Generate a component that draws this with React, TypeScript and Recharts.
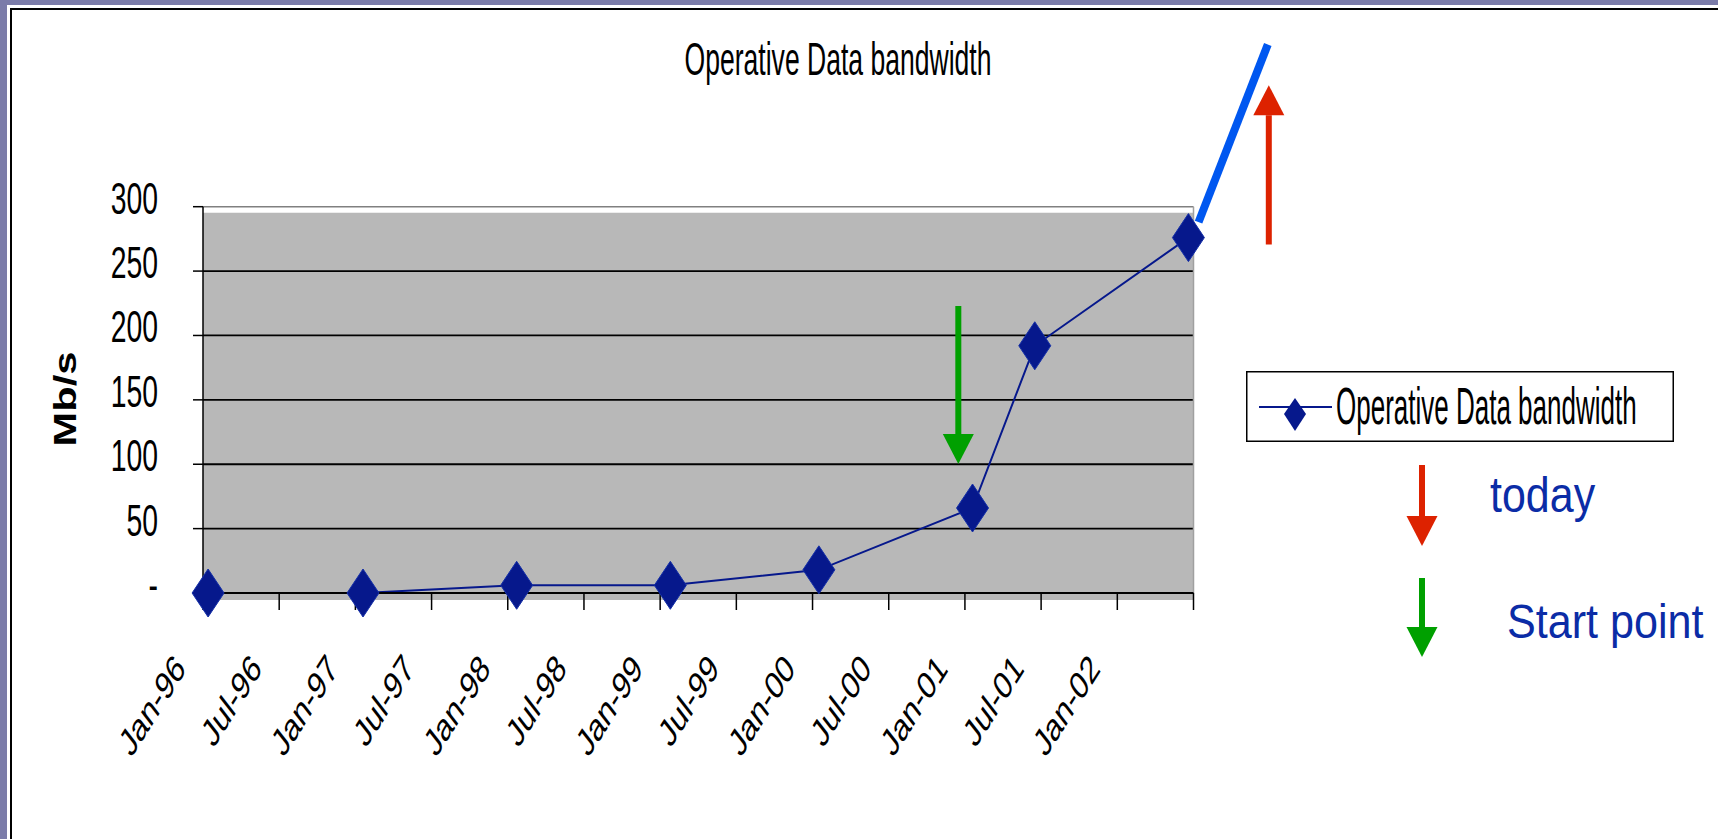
import React from "react";
import {
  LineChart,
  Line,
  XAxis,
  YAxis,
  CartesianGrid,
  ReferenceArea,
  ReferenceLine,
  Legend,
} from "recharts";

// months since Jan-96
const months = [0.4, 12.6, 24.7, 36.8, 48.5, 60.6, 65.5, 77.6];
const bandwidth = [0, 0, 6, 6, 18, 66, 192, 276];

const tickMonths = [0, 6, 12, 18, 24, 30, 36, 42, 48, 54, 60, 66, 72, 78];
const tickLabels = [
  "Jan-96", "Jul-96", "Jan-97", "Jul-97", "Jan-98", "Jul-98", "Jan-99",
  "Jul-99", "Jan-00", "Jul-00", "Jan-01", "Jul-01", "Jan-02", "",
];
const yTicks = [0, 50, 100, 150, 200, 250, 300];
const yTickLabels = ["-", "50", "100", "150", "200", "250", "300"];

const SERIES_NAME = "Operative Data bandwidth";
const NAVY = "#06188C";
const PLOT_GRAY = "#B8B8B8";
const FONT = "'Liberation Sans', Arial, sans-serif";

const data = months.map((m, i) => ({ month: m, value: bandwidth[i] }));

function XTick(props: any) {
  const { x, y, payload } = props;
  const i = tickMonths.indexOf(payload.value);
  const label = tickLabels[i] ?? "";
  if (!label) return null;
  // squeezed horizontally after rotation, like the original picture
  return (
    <text
      transform={`translate(${x - 16},${y + 58}) scale(0.7,1) rotate(-48)`}
      textAnchor="end"
      fontFamily={FONT}
      fontSize={39}
      fill="#000"
    >
      {label}
    </text>
  );
}

function YTick(props: any) {
  const { y, payload } = props;
  const i = yTicks.indexOf(payload.value);
  return (
    <text
      transform={`translate(158,${y + 7}) scale(0.63,1)`}
      textAnchor="end"
      fontFamily={FONT}
      fontSize={45}
      fill="#000"
    >
      {yTickLabels[i]}
    </text>
  );
}

function renderDiamond(props: any) {
  const { cx, cy, index } = props;
  return (
    <polygon
      key={`d-${index}`}
      points={`${cx},${cy - 24} ${cx + 16},${cy} ${cx},${cy + 24} ${cx - 16},${cy}`}
      fill={NAVY}
      stroke="#1530A8"
      strokeWidth={1}
    />
  );
}

function Arrow(props: any) {
  const { x1, y1, x2, y2, color } = props;
  const dx = x2 - x1;
  const dy = y2 - y1;
  const len = Math.sqrt(dx * dx + dy * dy) || 1;
  const ux = dx / len;
  const uy = dy / len;
  const head = 30;
  const half = 15.5;
  const bx = x2 - ux * head;
  const by = y2 - uy * head;
  return (
    <g>
      <line x1={x1} y1={y1} x2={bx} y2={by} stroke={color} strokeWidth={6} />
      <polygon
        points={`${x2},${y2} ${bx - uy * half},${by + ux * half} ${bx + uy * half},${by - ux * half}`}
        fill={color}
      />
    </g>
  );
}

function LegendBox(props: any) {
  const item = props.payload && props.payload[0];
  const name = item ? item.value : SERIES_NAME;
  return (
    <svg width={428} height={71} style={{ display: "block" }}>
      <rect x={0.75} y={0.75} width={426.5} height={69.5} fill="#fff" stroke="#000" strokeWidth={1.5} />
      <line x1={13} y1={36} x2={86} y2={36} stroke={NAVY} strokeWidth={2} />
      <polygon points="49,27 60,43 49,60 38,43" fill={NAVY} />
      <text
        transform="translate(90,53) scale(0.51,1)"
        fontFamily={FONT}
        fontSize={51}
        fill="#000"
      >
        {name}
      </text>
    </svg>
  );
}

export default function App() {
  return (
    <div style={{ position: "absolute", left: 0, top: 0, width: 1718, height: 839, background: "#fff" }}>
      <LineChart
        width={1718}
        height={839}
        data={data}
        margin={{ top: 206.7, right: 524.5, bottom: 146, left: 103 }}
      >
        <CartesianGrid
          vertical={false}
          horizontalValues={[50, 100, 150, 200, 250]}
          fill={PLOT_GRAY}
          fillOpacity={1}
          stroke="#000"
          strokeWidth={1.8}
        />
        {/* plot panel sits a few pixels lower than the 300 line */}
        <ReferenceArea
          x1={0}
          x2={78}
          y1={295.3}
          y2={300}
          fill="#fff"
          fillOpacity={1}
          stroke="none"
          ifOverflow="visible"
        />
        <ReferenceArea
          x1={0}
          x2={78}
          y1={-5.4}
          y2={0}
          fill={PLOT_GRAY}
          fillOpacity={1}
          stroke="none"
          ifOverflow="visible"
        />
        <ReferenceLine y={300} stroke="#808080" strokeWidth={1.5} />
        <ReferenceLine x={78} stroke="#A0A0A0" strokeWidth={1.5} />
        <XAxis
          type="number"
          dataKey="month"
          domain={[0, 78]}
          ticks={tickMonths}
          interval={0}
          tickSize={17}
          height={100}
          axisLine={{ stroke: "#000", strokeWidth: 2 }}
          tickLine={{ stroke: "#000", strokeWidth: 1.5 }}
          tick={<XTick />}
        />
        <YAxis
          type="number"
          domain={[0, 300]}
          ticks={yTicks}
          interval={0}
          tickSize={10}
          width={100}
          axisLine={{ stroke: "#000", strokeWidth: 1.5 }}
          tickLine={{ stroke: "#000", strokeWidth: 1.5 }}
          tick={<YTick />}
          label={{
            content: () => (
              <text
                transform="translate(76,399) rotate(-90) scale(1.3,1)"
                textAnchor="middle"
                fontFamily={FONT}
                fontWeight="bold"
                fontSize={32}
                fill="#000"
              >
                Mb/s
              </text>
            ),
          }}
        />
        <ReferenceLine
          segment={[{ x: 78.4, y: 288 }, { x: 83.85, y: 426 }]}
          stroke="#0057F0"
          strokeWidth={8}
          ifOverflow="visible"
        />
        <ReferenceLine
          segment={[{ x: 83.93, y: 270.6 }, { x: 83.93, y: 394.3 }]}
          ifOverflow="visible"
          shape={(p: any) => <Arrow {...p} color="#DD2200" />}
        />
        <ReferenceLine
          segment={[{ x: 59.48, y: 222.9 }, { x: 59.48, y: 100.2 }]}
          ifOverflow="visible"
          shape={(p: any) => <Arrow {...p} color="#00A000" />}
        />
        <Legend
          layout="vertical"
          align="center"
          verticalAlign="middle"
          content={<LegendBox />}
          wrapperStyle={{ left: 1246, top: 371, width: 428, height: 71 }}
        />
        <Line
          type="linear"
          dataKey="value"
          name={SERIES_NAME}
          stroke={NAVY}
          strokeWidth={2}
          dot={renderDiamond}
          activeDot={false}
          isAnimationActive={false}
        />
      </LineChart>
      <svg
        width={1718}
        height={839}
        style={{ position: "absolute", left: 0, top: 0, pointerEvents: "none" }}
      >
        <rect x={0} y={0} width={1718} height={5} fill="#7B7CA9" />
        <rect x={0} y={0} width={7} height={839} fill="#7B7CA9" />
        <rect x={10} y={8} width={1708} height={2} fill="#000" />
        <rect x={10} y={8} width={2} height={831} fill="#000" />
        <text
          transform="translate(838,75) scale(0.577,1)"
          textAnchor="middle"
          fontFamily={FONT}
          fontSize={46}
          fill="#000"
        >
          Operative Data bandwidth
        </text>
        <Arrow x1={1422} y1={465} x2={1422} y2={546} color="#DD2200" />
        <Arrow x1={1422} y1={578} x2={1422} y2={657} color="#00A000" />
        <text
          transform="translate(1490,512) scale(0.86,1)"
          fontFamily={FONT}
          fontSize={50}
          fill="#0B2CA6"
        >
          today
        </text>
        <text
          transform="translate(1507,638) scale(0.88,1)"
          fontFamily={FONT}
          fontSize={49}
          fill="#0B2CA6"
        >
          Start point
        </text>
      </svg>
    </div>
  );
}
